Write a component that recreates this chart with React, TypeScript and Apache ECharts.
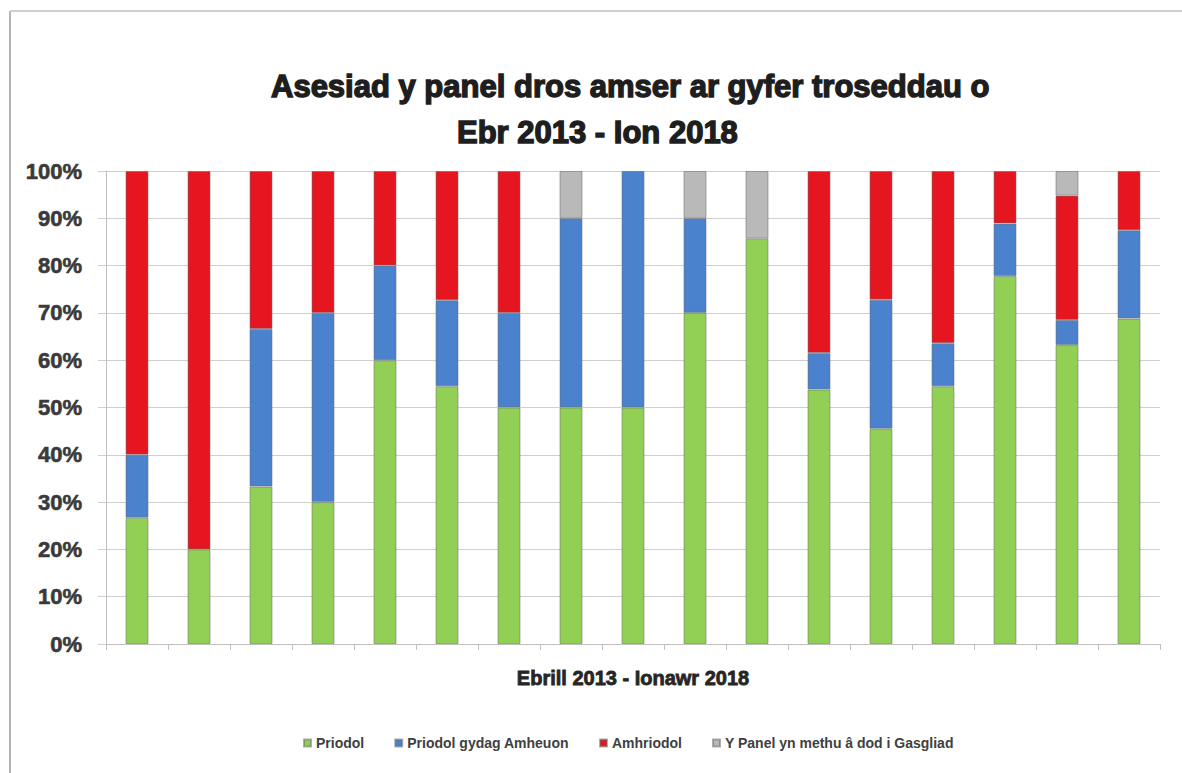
import React, { useEffect, useRef } from "react";
import * as echarts from "echarts";

const categories = ["1", "2", "3", "4", "5", "6", "7", "8", "9", "10", "11", "12", "13", "14", "15", "16", "17"];
const priodol = [26.7, 20, 33.3, 30, 60, 54.5, 50, 50, 50, 70, 85.7, 53.8, 45.5, 54.5, 77.8, 63.2, 68.8];
const amheuon = [13.3, 0, 33.3, 40, 20, 18.2, 20, 40, 50, 20, 0, 7.7, 27.3, 9.1, 11.1, 5.3, 18.7];
const amhriodol = [60, 80, 33.4, 30, 20, 27.3, 30, 0, 0, 0, 0, 38.5, 27.2, 36.4, 11.1, 26.3, 12.5];
const methu = [0, 0, 0, 0, 0, 0, 0, 10, 0, 10, 14.3, 0, 0, 0, 0, 5.2, 0];
const seriesNames = ["Priodol", "Priodol gydag Amheuon", "Amhriodol", "Y Panel yn methu â dod i Gasgliad"];
const yTicks = [0, 10, 20, 30, 40, 50, 60, 70, 80, 90, 100];

const colors = ["#92cf55", "#4a82cd", "#e5161f", "#b9b9b9"];

export default function App() {
  const ref = useRef<HTMLDivElement>(null);
  useEffect(() => {
    if (!ref.current) return;
    const chart = echarts.init(ref.current, null, { renderer: "svg" });
    const all = [priodol, amheuon, amhriodol, methu];
    const font = "'Liberation Sans', Arial, sans-serif";
    const titleStyle = {
      fontFamily: font,
      fontSize: 31,
      fontWeight: "bold",
      color: "#1e1e1e",
      textBorderColor: "#1e1e1e",
      textBorderWidth: 1.4,
    };
    chart.setOption({
      animation: false,
      backgroundColor: "#ffffff",
      title: [
        { text: "Asesiad y panel dros amser ar gyfer troseddau o", left: 266, top: 66, textStyle: titleStyle },
        { text: "Ebr 2013 - Ion 2018", left: 452, top: 112, textStyle: titleStyle },
      ],
      graphic: [
        { type: "line", shape: { x1: 10, y1: 11, x2: 10, y2: 773 }, style: { stroke: "#b4b4b4", lineWidth: 2 } },
        { type: "line", shape: { x1: 10, y1: 11, x2: 1182, y2: 11 }, style: { stroke: "#cfcfcf", lineWidth: 2 } },
      ],
      legend: {
        left: 298,
        top: 731,
        itemWidth: 7,
        itemHeight: 7,
        itemGap: 30,
        icon: "rect",
        textStyle: { fontFamily: font, fontSize: 14, fontWeight: "bold", color: "#404040" },
        data: seriesNames,
      },
      grid: { left: 106, right: 22, top: 171, bottom: 129 },
      xAxis: {
        type: "category",
        data: categories,
        name: "Ebrill 2013 - Ionawr 2018",
        nameLocation: "middle",
        nameGap: 24,
        nameTextStyle: {
          fontFamily: font,
          fontSize: 20,
          fontWeight: "bold",
          color: "#262626",
          textBorderColor: "#262626",
          textBorderWidth: 0.8,
        },
        axisLine: { lineStyle: { color: "#bfbfbf", width: 1 } },
        axisTick: { show: true, length: 6, lineStyle: { color: "#bfbfbf" } },
        axisLabel: { show: false },
      },
      yAxis: {
        type: "value",
        min: yTicks[0],
        max: yTicks[yTicks.length - 1],
        interval: 10,
        axisLine: { show: true, lineStyle: { color: "#bfbfbf" } },
        axisTick: { show: true, length: 8, lineStyle: { color: "#d0d0d0" } },
        splitLine: { lineStyle: { color: "#cfcfcf", width: 1 } },
        axisLabel: {
          formatter: "{value}%",
          margin: 24,
          fontFamily: font,
          fontSize: 22,
          fontWeight: "bold",
          color: "#3a3a3a",
          textBorderColor: "#3a3a3a",
          textBorderWidth: 0.6,
        },
      },
      series: all.map((arr, i) => ({
        name: seriesNames[i],
        type: "bar",
        stack: "total",
        barWidth: 23,
        data: arr.map((v) => (v === 0 ? "-" : v)),
        itemStyle: {
          color: colors[i],
          borderColor: "rgba(110,110,110,0.55)",
          borderWidth: 1,
        },
      })),
    });
    return () => chart.dispose();
  }, []);
  return (
    <div
      ref={ref}
      style={{ position: "absolute", left: 0, top: 0, width: 1182, height: 773 }}
    />
  );
}
